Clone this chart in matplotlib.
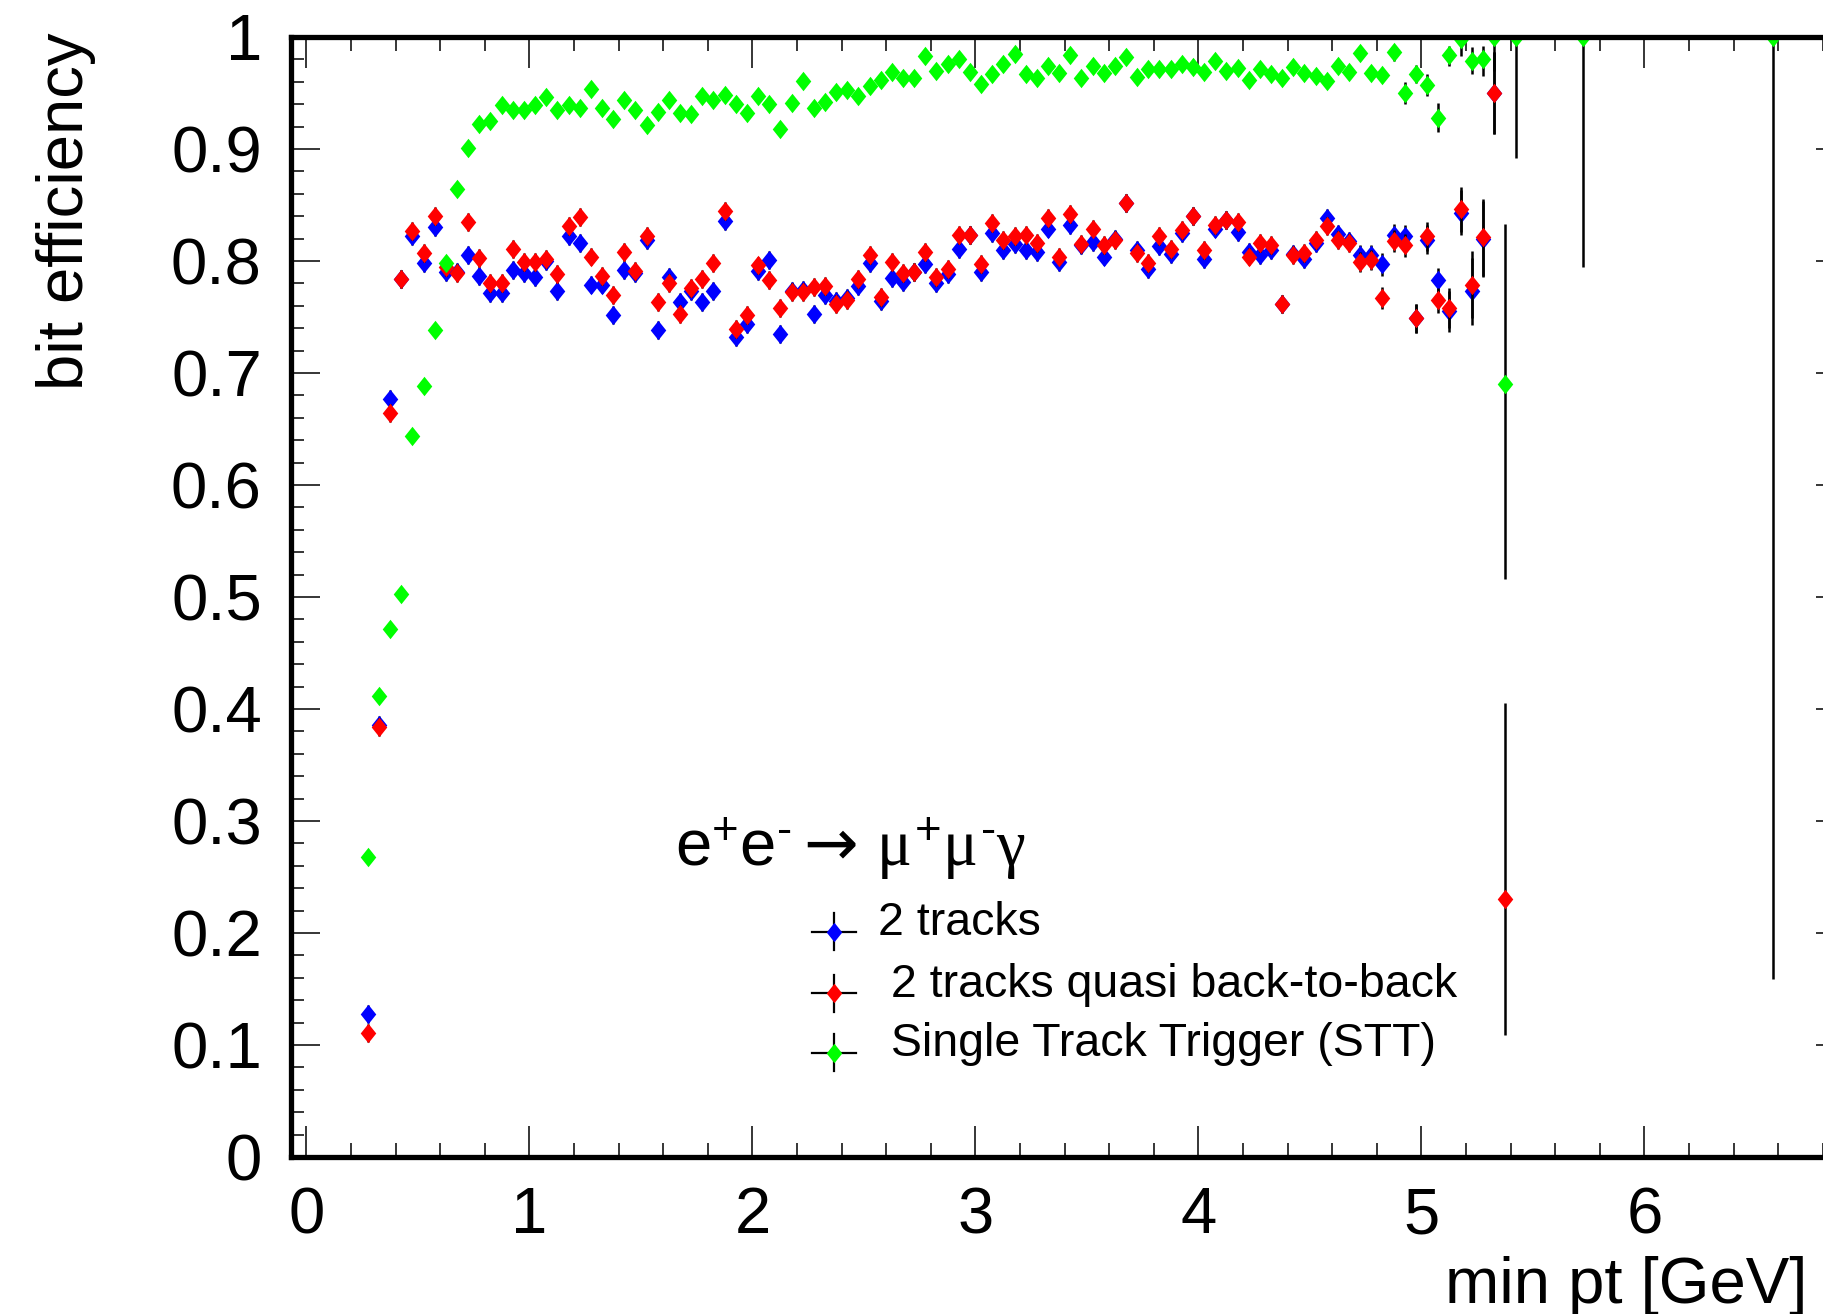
import numpy as np
import matplotlib
matplotlib.use('Agg')
import matplotlib.pyplot as plt
from matplotlib.path import Path
from matplotlib.ticker import MultipleLocator, FixedLocator, FixedFormatter

plt.rcParams['font.family'] = ['Liberation Sans', 'DejaVu Sans']
plt.rcParams['mathtext.fontset'] = 'custom'
plt.rcParams['mathtext.rm'] = 'Liberation Sans'
plt.rcParams['mathtext.it'] = 'Liberation Serif'
plt.rcParams['mathtext.sf'] = 'DejaVu Sans'

# 50 MeV bins starting at 0.25 GeV
bin_lo = 0.25
bin_w = 0.05

# 2 tracks
eff_2trk = [0.128, 0.386, 0.677, 0.784, 0.822, 0.798, 0.830, 0.790, 0.790, 0.805,
            0.787, 0.771, 0.771, 0.792, 0.789, 0.786, 0.800, 0.773, 0.822, 0.816,
            0.779, 0.779, 0.752, 0.792, 0.789, 0.819, 0.738, 0.786, 0.763, 0.773,
            0.763, 0.773, 0.836, 0.732, 0.744, 0.791, 0.801, 0.735, 0.773, 0.774,
            0.753, 0.770, 0.764, 0.767, 0.778, 0.798, 0.764, 0.785, 0.781, 0.790,
            0.797, 0.780, 0.788, 0.811, 0.823, 0.790, 0.825, 0.810, 0.815, 0.810,
            0.808, 0.829, 0.799, 0.832, 0.814, 0.817, 0.804, 0.820, 0.852, 0.810,
            0.793, 0.813, 0.806, 0.825, 0.840, 0.802, 0.829, 0.837, 0.826, 0.808,
            0.805, 0.810, 0.762, 0.806, 0.802, 0.816, 0.838, 0.824, 0.818, 0.805,
            0.805, 0.797, 0.823, 0.822, 0.749, 0.819, 0.783, 0.755, 0.843, 0.773,
            0.820, 0.950]

# 2 tracks quasi back-to-back
eff_b2b = [0.111, 0.384, 0.664, 0.784, 0.827, 0.807, 0.840, 0.795, 0.789, 0.835,
           0.803, 0.780, 0.780, 0.811, 0.799, 0.799, 0.802, 0.788, 0.831, 0.839,
           0.804, 0.787, 0.770, 0.808, 0.791, 0.822, 0.763, 0.780, 0.753, 0.776,
           0.784, 0.798, 0.845, 0.739, 0.752, 0.796, 0.783, 0.758, 0.772, 0.772,
           0.777, 0.778, 0.762, 0.765, 0.784, 0.805, 0.768, 0.799, 0.789, 0.790,
           0.808, 0.786, 0.793, 0.823, 0.823, 0.797, 0.834, 0.819, 0.822, 0.823,
           0.816, 0.838, 0.804, 0.842, 0.815, 0.829, 0.814, 0.819, 0.852, 0.807,
           0.798, 0.822, 0.811, 0.828, 0.840, 0.810, 0.832, 0.837, 0.835, 0.804,
           0.816, 0.814, 0.762, 0.805, 0.807, 0.819, 0.831, 0.819, 0.816, 0.799,
           0.801, 0.767, 0.818, 0.814, 0.749, 0.822, 0.765, 0.758, 0.846, 0.779,
           0.821, 0.950, 0.230]

# Single Track Trigger
eff_stt = [0.268, 0.412, 0.471, 0.503, 0.644, 0.688, 0.738, 0.798, 0.864, 0.901,
           0.922, 0.925, 0.939, 0.935, 0.935, 0.939, 0.946, 0.935, 0.939, 0.937,
           0.954, 0.937, 0.927, 0.944, 0.935, 0.921, 0.933, 0.944, 0.932, 0.931,
           0.947, 0.944, 0.948, 0.940, 0.932, 0.947, 0.940, 0.918, 0.941, 0.961,
           0.937, 0.942, 0.951, 0.953, 0.947, 0.956, 0.962, 0.969, 0.963, 0.963,
           0.983, 0.970, 0.976, 0.980, 0.969, 0.958, 0.967, 0.976, 0.985, 0.967,
           0.963, 0.974, 0.968, 0.984, 0.963, 0.974, 0.968, 0.974, 0.982, 0.964,
           0.971, 0.971, 0.971, 0.976, 0.973, 0.969, 0.979, 0.970, 0.972, 0.962,
           0.971, 0.967, 0.963, 0.973, 0.968, 0.965, 0.961, 0.974, 0.969, 0.986,
           0.968, 0.966, 0.987, 0.950, 0.967, 0.957, 0.928, 0.984, 0.998, 0.979,
           0.980, 1.000, 0.690, 1.000]
pt_stt_tail = [5.725, 6.575]
eff_stt_tail = [1.0, 1.0]

tail_err = [0.008, 0.008, 0.008, 0.009, 0.009, 0.010, 0.010, 0.010,
            0.013, 0.013, 0.011, 0.018, 0.020, 0.030, 0.034, 0.037]
err_2trk = [0.008] * 86 + tail_err
err_b2b_lo = [0.008] * 86 + tail_err + [0.121]
err_b2b_hi = [0.008] * 86 + tail_err + [0.175]
err_stt_lo = [0.003] * 92 + [0.008, 0.010, 0.008, 0.010, 0.013, 0.010, 0.015, 0.012,
                             0.015, 0.030, 0.174, 0.108] + [0.205, 0.841]
err_stt_hi = [0.003] * 92 + [0.006, 0.010, 0.008, 0.010, 0.013, 0.008, 0.002, 0.012,
                             0.012, 0.0, 0.143, 0.0] + [0.0, 0.0]

x_ticks = [0, 1, 2, 3, 4, 5, 6]
x_labels = ['0', '1', '2', '3', '4', '5', '6']
y_ticks = [0.0, 0.1, 0.2, 0.3, 0.4, 0.5, 0.6, 0.7, 0.8, 0.9, 1.0]
y_labels = ['0', '0.1', '0.2', '0.3', '0.4', '0.5', '0.6', '0.7', '0.8', '0.9', '1']

leg_labels = ['2 tracks', ' 2 tracks quasi back-to-back', ' Single Track Trigger (STT)']
leg_colors = ['#0000ff', '#ff0000', '#00ff00']

pt_2trk = bin_lo + bin_w * (np.arange(len(eff_2trk)) + 0.5)
pt_b2b = bin_lo + bin_w * (np.arange(len(eff_b2b)) + 0.5)
pt_stt = bin_lo + bin_w * (np.arange(len(eff_stt)) + 0.5)
pt_stt_all = np.concatenate([pt_stt, pt_stt_tail])
eff_stt_all = np.concatenate([eff_stt, eff_stt_tail])

# ROOT style diamond (taller than wide)
diamond = Path([(0, 1), (0.8, 0), (0, -1), (-0.8, 0), (0, 1)],
               [Path.MOVETO, Path.LINETO, Path.LINETO, Path.LINETO, Path.CLOSEPOLY])

W, H = 1824, 1314
fig = plt.figure(figsize=(W / 100, H / 100), dpi=100)
ax = fig.add_axes([291 / W, 1 - 1157 / H, 1535 / W, 1120 / H])
ax.set_xlim(-0.0695, 6.814)
ax.set_ylim(0, 1)

kw = dict(fmt='none', ecolor='black', elinewidth=1.8, capsize=0)
mk = dict(marker=diamond, ms=14, mew=0, ls='none')
ax.errorbar(pt_2trk, eff_2trk, yerr=err_2trk, **kw)
ax.plot(pt_2trk, eff_2trk, mfc=leg_colors[0], **mk)
ax.errorbar(pt_b2b, eff_b2b, yerr=[err_b2b_lo, err_b2b_hi], **kw)
ax.plot(pt_b2b, eff_b2b, mfc=leg_colors[1], **mk)
ax.errorbar(pt_stt_all, eff_stt_all, yerr=[err_stt_lo, err_stt_hi], **kw)
ax.plot(pt_stt_all, eff_stt_all, mfc=leg_colors[2], **mk)

# axes / ticks
ax.xaxis.set_major_locator(FixedLocator(x_ticks))
ax.xaxis.set_major_formatter(FixedFormatter(x_labels))
ax.xaxis.set_minor_locator(MultipleLocator(0.2))
ax.yaxis.set_major_locator(FixedLocator(y_ticks))
ax.yaxis.set_major_formatter(FixedFormatter(y_labels))
ax.yaxis.set_minor_locator(MultipleLocator(0.02))
ax.tick_params(axis='x', which='major', direction='in', length=22, width=1.1,
               top=True, bottom=True, pad=21, labelsize=47)
ax.tick_params(axis='x', which='minor', direction='in', length=10, width=1.1,
               top=True, bottom=True)
ax.tick_params(axis='y', which='major', direction='in', length=21, width=1.1,
               left=True, right=False, pad=21, labelsize=47)
ax.tick_params(axis='y', which='minor', direction='in', length=9.4, width=1.1,
               left=True, right=False)
for s in ax.spines.values():
    s.set_linewidth(3.8)

ax_r = ax.twinx()
ax_r.set_ylim(0, 1)
ax_r.yaxis.set_major_locator(FixedLocator(y_ticks))
ax_r.tick_params(axis='y', direction='in', length=7.5, width=1.1, labelright=False)
for s in ax_r.spines.values():
    s.set_visible(False)

ax.set_xlabel('min pt [GeV]', fontsize=47, ha='right', va='baseline')
ax.xaxis.set_label_coords(0.988, -0.130)
ax.text(-0.1466, 1.0036, 'bit efficiency', fontsize=47, rotation=90,
        ha='center', va='top', transform=ax.transAxes)

# process label
ax.text(1.652, 0.260,
        r'$\mathrm{e}^{+}\mathrm{e}^{\text{-}}\mathsf{\rightarrow}\,\mu^{+}\mu^{\text{-}}\gamma$',
        fontsize=47, ha='left', va='baseline')

# legend, ROOT "lep" style
leg_x = 2.365
leg_y = [0.201, 0.146, 0.093]
for lab, col, y in zip(leg_labels, leg_colors, leg_y):
    ax.plot([leg_x - 0.099, leg_x + 0.099], [y, y], color='black', lw=1.6)
    ax.plot([leg_x, leg_x], [y - 0.0165, y + 0.0165], color='black', lw=1.6)
    ax.plot([leg_x], [y], mfc=col, **mk)
    ax.text(2.563, y - 0.003, lab, fontsize=33.5, ha='left', va='baseline')

fig.savefig('out.png', dpi=100)
